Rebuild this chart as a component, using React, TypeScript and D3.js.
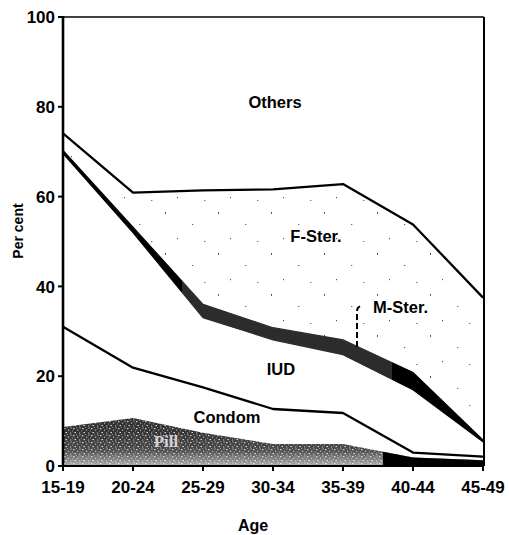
import React from 'react';
import * as d3 from 'd3';

const ageGroups = ['15-19', '20-24', '25-29', '30-34', '35-39', '40-44', '45-49'];
const pill = [8.7, 10.7, 7.4, 4.9, 4.9, 1.9, 1.3];
const condom = [22.3, 11.2, 10.1, 7.8, 6.9, 1.1, 0.8];
const iud = [38.6, 30.1, 15.5, 15.4, 13.0, 14.0, 3.3];
const mSter = [0.7, 1.2, 3.0, 2.7, 3.3, 3.8, 0.4];
const fSter = [3.8, 7.7, 25.4, 30.8, 34.7, 33.0, 31.7];
const others = [25.9, 39.1, 38.6, 38.4, 37.2, 46.2, 62.5];
const methods = ['Pill', 'Condom', 'IUD', 'M-Ster.', 'F-Ster.', 'Others'];
const yTicks = [0, 20, 40, 60, 80, 100];

const W = 509, H = 535;
const FONT = 'Arial, "Liberation Sans", Helvetica, sans-serif';

export default function App() {
  const series = [pill, condom, iud, mSter, fSter, others];
  const rows = ageGroups.map((age, i) => {
    const r: any = { age };
    methods.forEach((m, k) => (r[m] = series[k][i]));
    return r;
  });
  const stacked = d3.stack<any>().keys(methods)(rows);
  const byKey: Record<string, any> = {};
  stacked.forEach((s) => (byKey[s.key] = s));

  const x = d3.scalePoint<string>().domain(ageGroups).range([63, 483]);
  const y = d3.scaleLinear().domain([0, 100]).range([466, 17]);
  const xl = x(ageGroups[0])!, xr = x(ageGroups[ageGroups.length - 1])! + 1;

  const area = d3.area<any>()
    .x((d) => x(d.data.age)!)
    .y0((d) => y(d[0]))
    .y1((d) => y(d[1]));
  const topLine = d3.line<any>().x((d) => x(d.data.age)!).y((d) => y(d[1]));

  const step = x.step();
  const gray1 = x('25-29')! - step * 0.3;
  const gray2 = x('40-44')! - step * 0.3;
  const pillBlack = x('35-39')! + step * 0.57;

  return (
    <svg width={W} height={H} style={{ position: 'absolute', left: 0, top: 0, background: '#fff' }}>
      <defs>
        <pattern id="pillPat" width="9" height="7" patternUnits="userSpaceOnUse">
          <rect width="9" height="7" fill="#333" />
          <rect x="1" y="1" width="1.5" height="1.2" fill="#d0d0d0" />
          <rect x="5" y="2.5" width="1.2" height="1.3" fill="#a8a8a8" />
          <rect x="2.5" y="5" width="1.4" height="1.1" fill="#e6e6e6" />
          <rect x="7" y="5.5" width="1.2" height="1" fill="#bbb" />
          <rect x="4" y="0" width="1" height="1" fill="#888" />
          <rect x="7.5" y="0.5" width="1" height="1" fill="#ddd" />
          <rect x="0" y="3.5" width="1" height="1" fill="#999" />
        </pattern>
        <pattern id="dotPat" width="53" height="41" patternUnits="userSpaceOnUse">
          <rect x="6" y="7" width="1" height="1.8" fill="#444" />
          <rect x="33" y="19" width="1.3" height="1" fill="#666" />
          <rect x="18" y="33" width="1" height="1.2" fill="#555" />
          <rect x="45" y="36" width="1.4" height="1" fill="#777" />
        </pattern>
        <linearGradient id="msterGrad" gradientUnits="userSpaceOnUse" x1={xl} x2={xr} y1="0" y2="0">
          <stop offset={(gray1 - xl) / (xr - xl)} stopColor="#000" />
          <stop offset={(gray1 - xl) / (xr - xl)} stopColor="#2c2c2c" />
          <stop offset={(gray2 - xl) / (xr - xl)} stopColor="#2c2c2c" />
          <stop offset={(gray2 - xl) / (xr - xl)} stopColor="#000" />
        </linearGradient>
        <linearGradient id="pillFade" gradientUnits="userSpaceOnUse" x1="0" x2="0" y1={y(8)} y2={y(0)}>
          <stop offset="0" stopColor="#fff" stopOpacity="0" />
          <stop offset="0.55" stopColor="#fff" stopOpacity="0.12" />
          <stop offset="1" stopColor="#fff" stopOpacity="0.6" />
        </linearGradient>
        <clipPath id="pillClip">
          <rect x={pillBlack} y={y(100)} width={xr - pillBlack} height={y(0) - y(100)} />
        </clipPath>
      </defs>

      <rect x={0} y={0} width={W} height={H} fill="#fff" />

      {/* F-Ster sparse dots */}
      <path d={area(byKey['F-Ster.'])!} fill="url(#dotPat)" />
      {/* M-Ster band */}
      <path d={area(byKey['M-Ster.'])!} fill="url(#msterGrad)" stroke="url(#msterGrad)" strokeWidth={1.2} />
      {/* Pill */}
      <path d={area(byKey['Pill'])!} fill="url(#pillPat)" />
      <path d={area(byKey['Pill'])!} fill="url(#pillFade)" />
      <path d={area(byKey['Pill'])!} fill="#000" clipPath="url(#pillClip)" />

      {/* boundary lines */}
      <path d={topLine(byKey['F-Ster.'])!} fill="none" stroke="#000" strokeWidth={2.3} strokeLinejoin="round" />
      <path d={topLine(byKey['Condom'])!} fill="none" stroke="#000" strokeWidth={2.3} strokeLinejoin="round" />

      {/* frame */}
      <line x1={xl} x2={xr} y1={y(100)} y2={y(100)} stroke="#000" strokeWidth={1.6} />
      <line x1={xr} x2={xr} y1={y(100)} y2={y(0)} stroke="#000" strokeWidth={2} />
      <line x1={xl} x2={xl} y1={y(100) - 1} y2={y(0) + 1} stroke="#000" strokeWidth={2.6} />
      <line x1={xl} x2={xr} y1={y(0)} y2={y(0)} stroke="#000" strokeWidth={2.2} />

      {/* y ticks */}
      {yTicks.map((t) => (
        <g key={t}>
          <line x1={xl - 5} x2={xl} y1={y(t)} y2={y(t)} stroke="#000" strokeWidth={2} />
          <text x={xl - 8} y={y(t)} dy="0.36em" textAnchor="end" fontFamily={FONT} fontWeight="bold" fontSize={17}>{t}</text>
        </g>
      ))}
      {/* x ticks */}
      {ageGroups.map((a) => (
        <g key={a}>
          <line x1={x(a)!} x2={x(a)!} y1={y(0)} y2={y(0) + 5} stroke="#000" strokeWidth={2} />
          <text x={x(a)!} y={y(0) + 27} textAnchor="middle" fontFamily={FONT} fontWeight="bold" fontSize={17}>{a}</text>
        </g>
      ))}

      {/* axis titles */}
      <text x={253} y={531} textAnchor="middle" fontFamily={FONT} fontWeight="bold" fontSize={16}>Age</text>
      <text transform="translate(23,231) rotate(-90)" textAnchor="middle" fontFamily={FONT} fontWeight="bold" fontSize={14}>Per cent</text>

      {/* region labels */}
      <text x={275} y={108} textAnchor="middle" fontFamily={FONT} fontWeight="bold" fontSize={16.5}>Others</text>
      <text x={316} y={242} textAnchor="middle" fontFamily={FONT} fontWeight="bold" fontSize={16.5}>F-Ster.</text>
      <text x={373} y={313} fontFamily={FONT} fontWeight="bold" fontSize={16.5}>M-Ster.</text>
      <text x={281} y={375} textAnchor="middle" fontFamily={FONT} fontWeight="bold" fontSize={16.5}>IUD</text>
      <text x={227} y={423} textAnchor="middle" fontFamily={FONT} fontWeight="bold" fontSize={16.5}>Condom</text>
      <text x={166} y={447} textAnchor="middle" fontFamily={'"Liberation Serif", "DejaVu Serif", serif'} fontWeight="bold" fontSize={17} fill="#e0e0e0" opacity={0.9}>Pill</text>

      {/* M-Ster leader */}
      <path
        d={`M${x('35-39')! + step * 0.2},${y(26.5)} L${x('35-39')! + step * 0.2},${y(34.4)} Q${x('35-39')! + step * 0.2},${y(35.6)} ${x('35-39')! + step * 0.27},${y(35.6)}`}
        fill="none" stroke="#000" strokeWidth={2} strokeDasharray="6,3"
      />
    </svg>
  );
}
